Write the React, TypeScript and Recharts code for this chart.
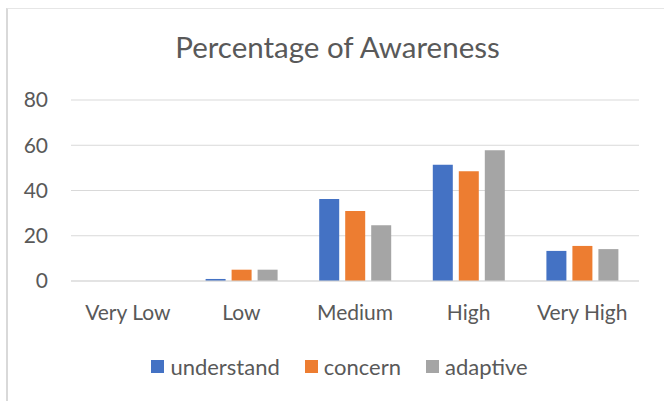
import { BarChart, Bar, XAxis, YAxis, CartesianGrid } from 'recharts';

const categories = ['Very Low', 'Low', 'Medium', 'High', 'Very High'];
const understand = [0, 0.9, 36.2, 51.4, 13.3];
const concern = [0, 5.0, 30.9, 48.5, 15.5];
const adaptive = [0, 5.0, 24.6, 57.8, 14.1];
const yTicks = [0, 20, 40, 60, 80];

const seriesNames = ['understand', 'concern', 'adaptive'];
const seriesColors = ['#4472C4', '#ED7D31', '#A5A5A5'];

const data = categories.map((name, i) => ({
  name,
  understand: understand[i],
  concern: concern[i],
  adaptive: adaptive[i],
}));

const FONT = 'Lato, "Open Sans", sans-serif';
const TEXT = '#595959';

export default function App() {
  return (
    <div style={{ position: 'absolute', left: 0, top: 0, width: 664, height: 401, background: '#fff', fontFamily: FONT }}>
      {/* chart frame: only the left and top edges are inside the picture */}
      <div
        style={{
          position: 'absolute',
          left: 6,
          top: 8,
          width: 700,
          height: 420,
          borderLeft: '2px solid #d9d9d9',
          borderTop: '1px solid #e6e6e6',
        }}
      />
      <div
        style={{
          position: 'absolute',
          left: 0,
          width: 675,
          top: 29,
          textAlign: 'center',
          fontSize: 29.5,
          color: TEXT,
          lineHeight: '36px',
        }}
      >
        Percentage of Awareness
      </div>
      <div style={{ position: 'absolute', left: 0, top: 0 }}>
        <BarChart
          width={664}
          height={401}
          data={data}
          margin={{ top: 100, right: 25, bottom: 80, left: 0 }}
          barSize={20}
          barGap={6}
        >
          <CartesianGrid vertical={false} stroke="#d9d9d9" strokeWidth={1.2} />
          <XAxis
            dataKey="name"
            height={40}
            tickLine={false}
            tickSize={0}
            tickMargin={24}
            axisLine={{ stroke: '#d9d9d9', strokeWidth: 1.2 }}
            tick={{ fill: TEXT, fontSize: 21, fontFamily: FONT }}
            interval={0}
          />
          <YAxis
            width={71}
            domain={[0, 80]}
            ticks={yTicks}
            axisLine={false}
            tickLine={false}
            tickSize={0}
            tickMargin={23}
            tick={{ fill: TEXT, fontSize: 21, fontFamily: FONT }}
          />
          {seriesNames.map((s, i) => (
            <Bar key={s} dataKey={s} fill={seriesColors[i]} isAnimationActive={false} />
          ))}
        </BarChart>
      </div>
      <div
        style={{
          position: 'absolute',
          top: 353,
          left: 0,
          width: 664,
          display: 'flex',
          justifyContent: 'center',
          alignItems: 'center',
          fontSize: 22,
          color: TEXT,
          paddingLeft: 15,
          boxSizing: 'border-box',
        }}
      >
        {seriesNames.map((s, i) => (
          <div key={s} style={{ display: 'flex', alignItems: 'center', marginRight: i < 2 ? 25 : 0 }}>
            <span style={{ display: 'inline-block', width: 13, height: 13, background: seriesColors[i], marginRight: 6 }} />
            <span>{s}</span>
          </div>
        ))}
      </div>
    </div>
  );
}
